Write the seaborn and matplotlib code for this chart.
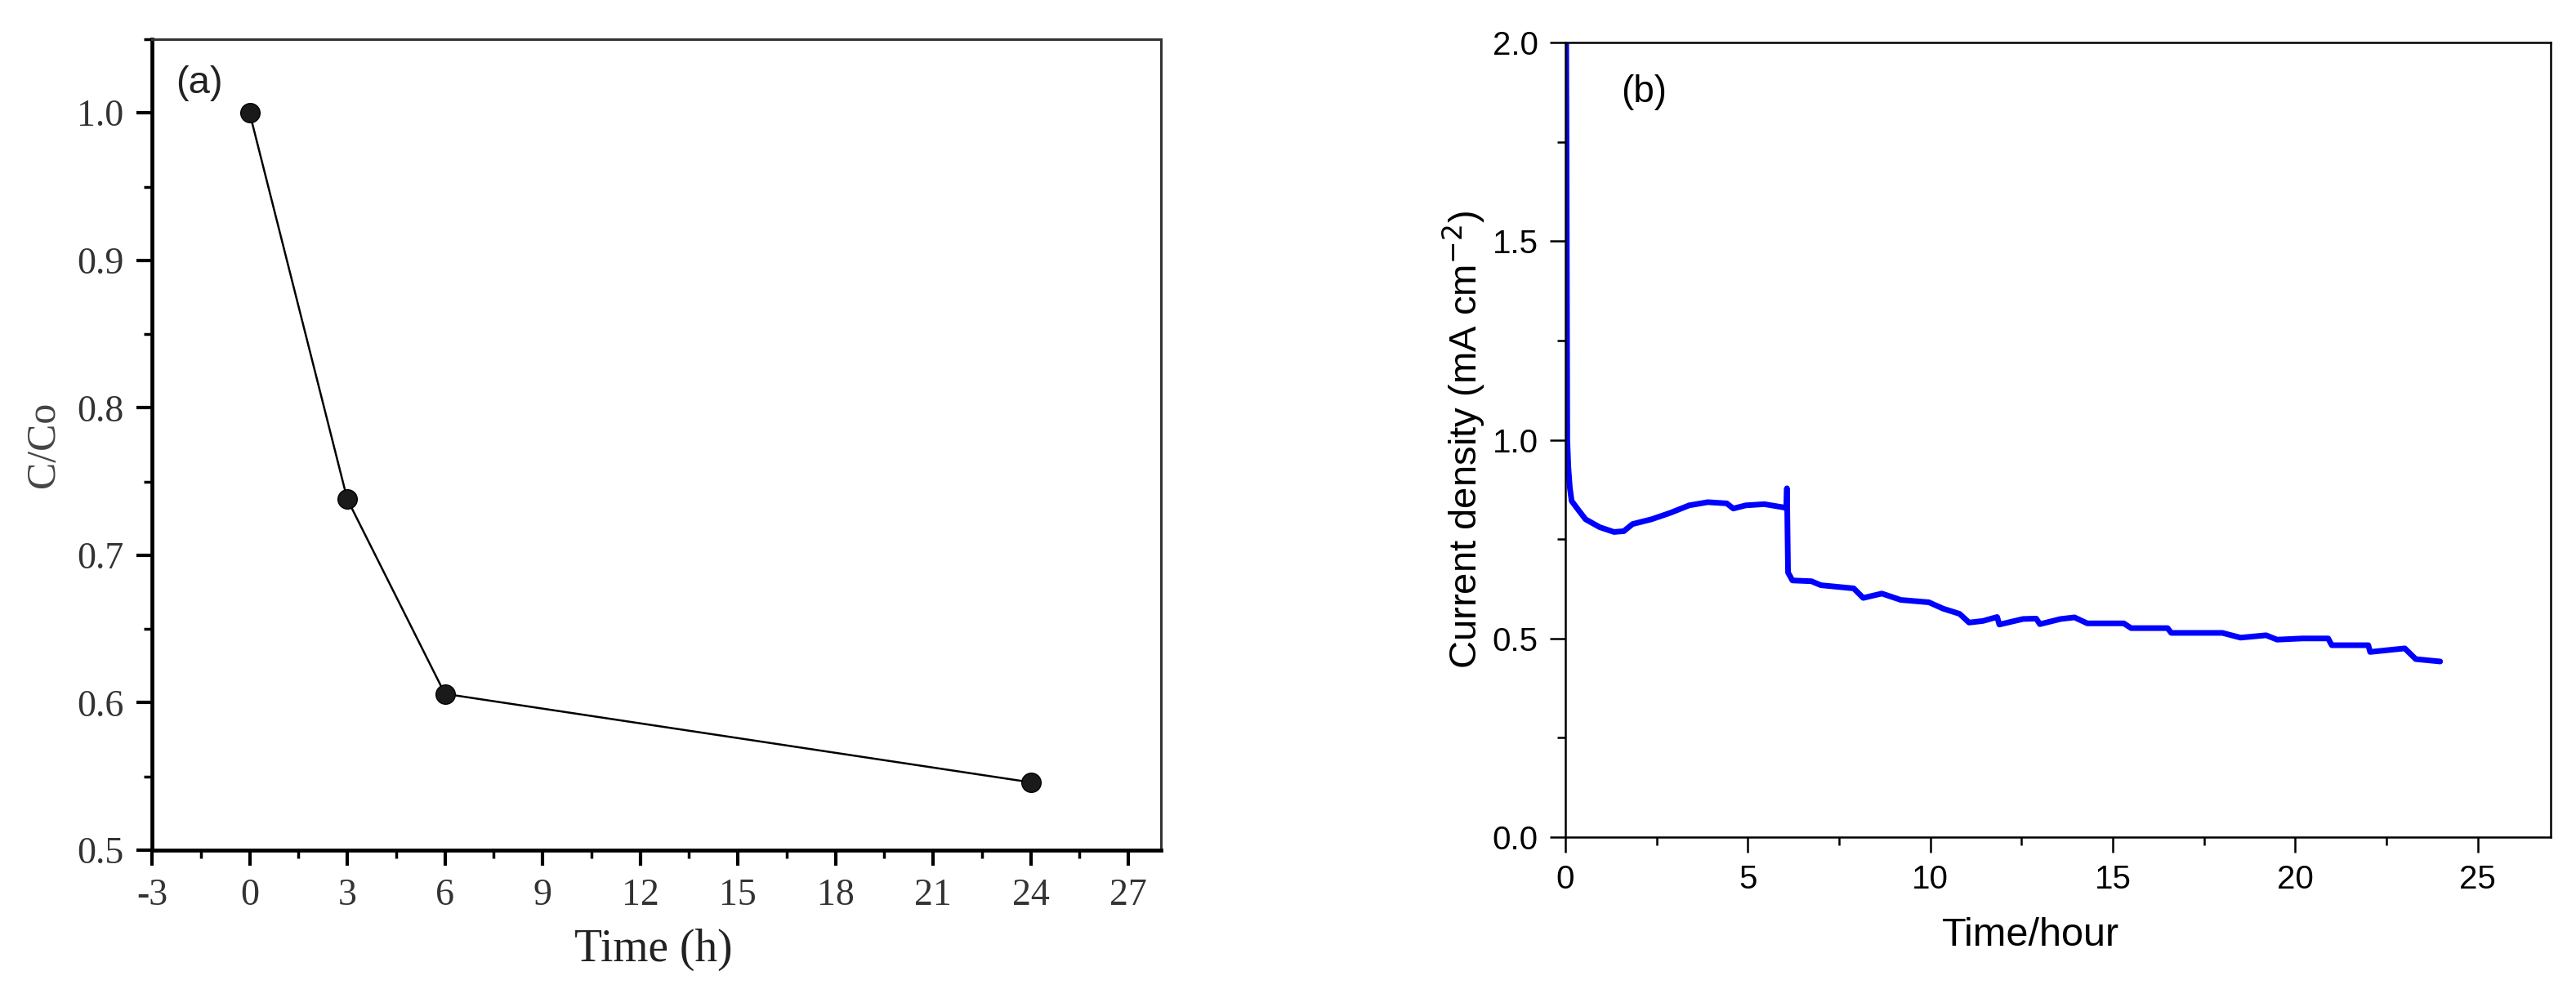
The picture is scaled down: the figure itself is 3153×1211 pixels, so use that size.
import numpy as np
import pandas as pd
import matplotlib
matplotlib.use("Agg")
import matplotlib.pyplot as plt
import seaborn as sns
from matplotlib.ticker import MultipleLocator

# ---------------- data ----------------
time_a = [0, 3, 6, 24]
ratio_a = [1.0, 0.738, 0.606, 0.546]

time_b = [0.0, 0.02, 0.03, 0.05, 0.08, 0.12, 0.17, 0.3, 0.55, 0.94, 1.33, 1.6,
          1.84, 2.36, 2.87, 3.39, 3.9, 4.42, 4.6, 4.94, 5.45, 5.97, 6.05, 6.07,
          6.1, 6.22, 6.74, 7.0, 7.9, 8.16, 8.67, 9.19, 9.96, 10.35, 10.8, 11.06,
          11.44, 11.83, 11.89, 12.54, 12.9, 13.0, 13.57, 13.95, 14.3, 15.3, 15.5,
          16.5, 16.6, 18.0, 18.5, 19.2, 19.5, 20.2, 20.9, 21.0, 22.0, 22.05,
          23.0, 23.3, 23.97]
current_b = [2.2, 2.0, 1.72, 1.0, 0.93, 0.88, 0.846, 0.83, 0.80, 0.78, 0.768, 0.77,
             0.788, 0.80, 0.816, 0.835, 0.843, 0.84, 0.827, 0.835, 0.838, 0.83, 0.828, 0.878,
             0.666, 0.646, 0.644, 0.634, 0.626, 0.602, 0.613, 0.597, 0.591, 0.575, 0.562, 0.54,
             0.544, 0.554, 0.535, 0.549, 0.55, 0.536, 0.549, 0.553, 0.538, 0.538, 0.526,
             0.526, 0.514, 0.514, 0.502, 0.508, 0.497, 0.5, 0.5, 0.483, 0.483, 0.466,
             0.475, 0.448, 0.442]

xticks_a = [-3, 0, 3, 6, 9, 12, 15, 18, 21, 24, 27]
yticks_a = [0.5, 0.6, 0.7, 0.8, 0.9, 1.0]
xticks_b = [0, 5, 10, 15, 20, 25]
yticks_b = [0.0, 0.5, 1.0, 1.5, 2.0]

df_a = pd.DataFrame({"Time": time_a, "C/Co": ratio_a})
df_b = pd.DataFrame({"Time": time_b, "J": current_b})

sns.set_theme(style="ticks")
plt.rcParams["font.family"] = ["Liberation Sans", "DejaVu Sans"]
serif = ["Liberation Serif", "DejaVu Serif"]

fig = plt.figure(figsize=(31.53, 12.11), dpi=100)
ax1 = fig.add_axes([0.059, 0.1404, 0.3917, 0.82])
ax2 = fig.add_axes([0.6077, 0.1536, 0.3825, 0.8034])

# ---------------- panel (a) ----------------
sns.lineplot(data=df_a, x="Time", y="C/Co", ax=ax1, color="black", lw=1.8,
             marker="o", markersize=17, markerfacecolor="#1a1a1a",
             markeredgecolor="black", markeredgewidth=1.0, sort=False)
ax1.set_xlim(-3, 28)
ax1.set_ylim(0.5, 1.05)
ax1.set_xticks(xticks_a)
ax1.set_yticks(yticks_a)
ax1.set_xticklabels([str(v) for v in xticks_a])
ax1.set_yticklabels([f"{v:.1f}" for v in yticks_a])
ax1.xaxis.set_minor_locator(MultipleLocator(1.5))
ax1.yaxis.set_minor_locator(MultipleLocator(0.05))
for side in ["left", "bottom"]:
    ax1.spines[side].set_linewidth(3.4)
    ax1.spines[side].set_color("black")
for side in ["top", "right"]:
    ax1.spines[side].set_linewidth(2.2)
    ax1.spines[side].set_color("#333333")
ax1.tick_params(axis="both", which="major", direction="out", length=14, width=3,
                color="black", labelsize=33, labelcolor="#333333", pad=11)
ax1.tick_params(axis="both", which="minor", direction="out", length=7.5, width=2.5,
                color="black")
for lab in ax1.get_xticklabels() + ax1.get_yticklabels():
    lab.set_fontfamily(serif)
ax1.set_xlabel("Time (h)", fontsize=40, family=serif, color="#222222")
ax1.set_ylabel("C/Co", fontsize=36, family=serif, color="#444444")
ax1.xaxis.label.set_va("center")
ax1.yaxis.label.set_va("center")
ax1.xaxis.set_label_coords(0.497, -0.123)
ax1.yaxis.set_label_coords(-0.107, 0.5)
ax1.text(0.047, 0.9456, "(a)", transform=ax1.transAxes, fontsize=34,
         ha="center", va="center", color="#222222")

# ---------------- panel (b) ----------------
sns.lineplot(data=df_b, x="Time", y="J", ax=ax2, color="#0000ff", lw=5,
             sort=False, estimator=None)
ax2.set_xlim(0, 27)
ax2.set_ylim(0, 2.0)
ax2.set_xticks(xticks_b)
ax2.set_yticks(yticks_b)
ax2.set_xticklabels([str(v) for v in xticks_b])
ax2.set_yticklabels([f"{v:.1f}" for v in yticks_b])
ax2.xaxis.set_minor_locator(MultipleLocator(2.5))
ax2.yaxis.set_minor_locator(MultipleLocator(0.25))
for side in ["left", "bottom", "top", "right"]:
    ax2.spines[side].set_linewidth(1.8)
    ax2.spines[side].set_color("black")
ax2.tick_params(axis="both", which="major", direction="out", length=14, width=1.8,
                color="black", labelsize=29, labelcolor="black", pad=10)
ax2.tick_params(axis="both", which="minor", direction="out", length=7, width=1.8,
                color="black")
ax2.set_xlabel("Time/hour", fontsize=35, color="black")
ax2.set_ylabel("Current density (mA cm$^{-2}$)", fontsize=34, color="black")
ax2.xaxis.label.set_va("center")
ax2.yaxis.label.set_va("center")
ax2.xaxis.set_label_coords(0.472, -0.124)
ax2.yaxis.set_label_coords(-0.103, 0.5)
ax2.text(0.08, 0.937, "(b)", transform=ax2.transAxes, fontsize=33,
         ha="center", va="center", color="black")

fig.savefig("out.png", dpi=100, facecolor="white")
